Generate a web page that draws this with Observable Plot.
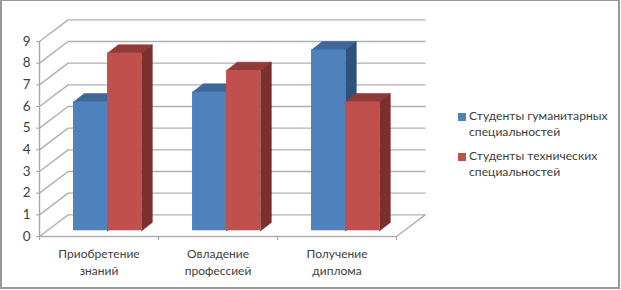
<!DOCTYPE html>
<html><head><meta charset="utf-8">
<script src="https://cdn.jsdelivr.net/npm/d3@7"></script>
<script src="https://cdn.jsdelivr.net/npm/@observablehq/plot@0.6"></script>
<style>
html,body{margin:0;padding:0;background:#fff}
#chart{position:relative;width:621px;height:290px;overflow:hidden;font-family:Lato,"Open Sans",sans-serif}
#chart svg{display:block;position:absolute;left:0;top:0;background:transparent}
#frame{position:absolute;left:0;top:0;width:620px;height:289px;box-sizing:border-box;border:2px solid #999;border-top-width:1.5px}
.leg{position:absolute;left:469px;font-size:12.15px;line-height:16.7px;color:#404040;white-space:pre}
.sw{position:absolute;left:458px;width:8px;height:8px}
</style></head><body>
<div id="chart"></div>
<script>
const categories = ["Приобретение\nзнаний", "Овладение\nпрофессией", "Получение\nдиплома"];
const seriesNames = ["Студенты гуманитарных\nспециальностей", "Студенты технических\nспециальностей"];
const humanities = [5.95, 6.4, 8.35];
const technical = [8.2, 7.4, 5.95];
const yTicks = [0,1,2,3,4,5,6,7,8,9];
const catEdges = [0,1,2,3];

const blue = {front:"#4f81bd", top:"#3f6797", side:"#2f527c"};
const red  = {front:"#c0504d", top:"#913b39", side:"#7b302e"};
const grid = "#b0b0b0";

// oblique projection, in data units
const wallDx = 0.24, wallDy = 1;
const barOff = 0.286, barW = 0.286, lift = 0.263, sideDx = 0.09, sideDy = 0.383;

const marks = [];
const seg = (pts, o={}) => Plot.line(pts, {x:"x", y:"y", stroke:grid, strokeWidth:1.4, ...o});
for (const t of yTicks) {
  marks.push(seg([{x:0,y:t},{x:wallDx,y:t+wallDy},{x:3+wallDx,y:t+wallDy}]));
}
marks.push(seg([{x:0,y:0},{x:3,y:0},{x:3+wallDx,y:wallDy}]));
marks.push(Plot.ruleX([0], {y1:0, y2:9, stroke:"#a6a6a6", strokeWidth:1.4}));

function bar(i, v, k, c) {
  const x0 = i + barOff + k*barW, x1 = x0 + barW, b = lift, t = lift + v;
  const poly = (pts, fill) => Plot.line(pts, {x:"x", y:"y", fill, stroke:fill, strokeWidth:0.6});
  marks.push(poly([{x:x0,y:t},{x:x1,y:t},{x:x1+sideDx,y:t+sideDy},{x:x0+sideDx,y:t+sideDy},{x:x0,y:t}], c.top));
  marks.push(poly([{x:x1,y:b},{x:x1+sideDx,y:b+sideDy},{x:x1+sideDx,y:t+sideDy},{x:x1,y:t},{x:x1,y:b}], c.side));
  marks.push(Plot.rect([{x1:x0,x2:x1,y1:b,y2:t}], {x1:"x1",x2:"x2",y1:"y1",y2:"y2",fill:c.front}));
}
categories.forEach((_, i) => { bar(i, humanities[i], 0, blue); bar(i, technical[i], 1, red); });

const plot = Plot.plot({
  width:621, height:290,
  marginLeft:39, marginRight:225, marginTop:41, marginBottom:54,
  x:{type:"linear", domain:[0,3], axis:null},
  y:{type:"linear", domain:[0,9], axis:null},
  style:{fontFamily:'Lato,"Open Sans",sans-serif', background:"transparent", overflow:"visible"},
  marks:[
    ...marks,
    Plot.axisX({ticks:catEdges, tickSize:4, tickFormat:()=>"", stroke:"#a6a6a6", strokeWidth:1.2, label:null}),
    Plot.axisY({ticks:yTicks, tickSize:3, tickPadding:6, fontSize:13.5, color:"#404040", stroke:"#a6a6a6", label:null}),
    Plot.axisX({ticks:[0.5,1.5,2.5], tickSize:0, tickPadding:10, fontSize:12, color:"#404040", label:null, tickFormat:d=>categories[d-0.5], lineHeight:1.39})
  ]
});
const root = document.getElementById("chart");
root.append(plot);
const fr = document.createElement("div"); fr.id="frame"; root.append(fr);
[[seriesNames[0], blue.front, 113, 107.5],[seriesNames[1], red.front, 153, 147.5]].forEach(([n,c,sy,ty])=>{
  const s=document.createElement("div"); s.className="sw"; s.style.top=sy+"px"; s.style.background=c; root.append(s);
  const t=document.createElement("div"); t.className="leg"; t.style.top=ty+"px"; t.textContent=n; root.append(t);
});
</script></body></html>
